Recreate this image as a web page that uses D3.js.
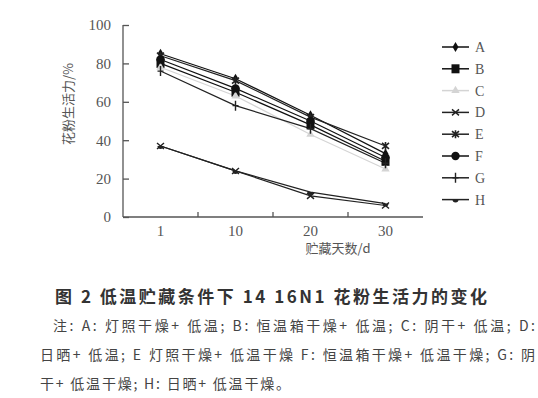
<!DOCTYPE html>
<html>
<head>
<meta charset="utf-8">
<script src="https://cdn.jsdelivr.net/npm/d3@7"></script>
<style>
  body { margin: 0; background: #fff; }
  svg { display: block; }
  .tick text { font-family: "Liberation Serif", "DejaVu Serif", serif; fill: #555; }
</style>
</head>
<body>
<div id="chart"></div>
<script>
// storage days (categories) and viability (%)
let days = [1, 10, 20, 30];
let seriesNames = ["A", "B", "C", "D", "E", "F", "G", "H"];
let valA = [85, 72, 53, 33];
let valB = [80, 65, 48, 29];
let valC = [78, 63, 43, 25];
let valD = [37, 24, 11, 6];
let valE = [84, 71, 52, 37];
let valF = [82, 67, 50, 31];
let valG = [76, 58, 46, 28];
let valH = [37, 24, 13, 7];
let yTicks = [0, 20, 40, 60, 80, 100];

let series = [
  { name: "A", values: valA, color: "#111", marker: "diamond" },
  { name: "B", values: valB, color: "#111", marker: "square" },
  { name: "C", values: valC, color: "#d4d4d4", marker: "triangle" },
  { name: "D", values: valD, color: "#222", marker: "x" },
  { name: "E", values: valE, color: "#222", marker: "star" },
  { name: "F", values: valF, color: "#111", marker: "circle" },
  { name: "G", values: valG, color: "#222", marker: "plus" },
  { name: "H", values: valH, color: "#222", marker: "dash" }
];

let dim = { width: 538, height: 398 };
let plot = { left: 123, right: 423, top: 25, bottom: 217 };

let svg = d3.select("#chart").append("svg")
    .attr("width", dim.width)
    .attr("height", dim.height);

let x = d3.scaleBand()
    .domain(days)
    .range([plot.left, plot.right]);

let y = d3.scaleLinear()
    .domain([0, 100])
    .range([plot.bottom, plot.top]);

// y axis, ticks pointing into the plot
let yAxis = d3.axisLeft(y).tickValues(yTicks).tickSize(-6).tickPadding(12);
let gy = svg.append("g")
    .attr("transform", "translate(" + plot.left + ",0)")
    .call(yAxis);
gy.select(".domain").attr("d", "M0," + plot.top + "V" + plot.bottom);
gy.selectAll("line, path").attr("stroke", "#555").attr("stroke-width", 1.3);
gy.selectAll("text").style("font-size", "15px");

// x axis, ticks between categories
let xAxis = d3.axisBottom(x).tickSize(0).tickPadding(8);
let gx = svg.append("g")
    .attr("transform", "translate(0," + plot.bottom + ")")
    .call(xAxis);
gx.select(".domain").attr("d", "M" + plot.left + ",0H" + plot.right);
gx.selectAll("line, path").attr("stroke", "#555").attr("stroke-width", 1.3);
gx.selectAll("text").style("font-size", "15px");
gx.selectAll(".sep").data(days.slice(1)).enter().append("line")
    .attr("class", "sep")
    .attr("x1", d => x(d)).attr("x2", d => x(d))
    .attr("y1", 0).attr("y2", -5)
    .attr("stroke", "#555").attr("stroke-width", 1.3);

let cx = d => x(d) + x.bandwidth() / 2;

function drawMarker(g, type, color) {
  if (type === "diamond") {
    g.append("path").attr("d", d3.symbol(d3.symbolDiamond, 30)()).attr("fill", color);
  } else if (type === "square") {
    g.append("rect").attr("x", -4).attr("y", -4.5).attr("width", 8).attr("height", 9).attr("fill", color);
  } else if (type === "triangle") {
    g.append("path").attr("d", d3.symbol(d3.symbolTriangle, 30)()).attr("fill", color);
  } else if (type === "x") {
    g.append("path").attr("d", "M-3.5,-3L3.5,3M-3.5,3L3.5,-3").attr("stroke", color).attr("stroke-width", 1.4);
  } else if (type === "star") {
    g.append("path").attr("d", "M-3.5,-3L3.5,3M-3.5,3L3.5,-3M0,-4V4").attr("stroke", color).attr("stroke-width", 1.6);
  } else if (type === "circle") {
    g.append("circle").attr("r", 4.2).attr("fill", color);
  } else if (type === "plus") {
    g.append("path").attr("d", "M0,-5V5M-3,0H3").attr("stroke", color).attr("stroke-width", 1.4);
  } else if (type === "dash") {
    g.append("path").attr("d", "M-3,0A3,3 0 0 0 3,0Z").attr("fill", color);
  }
}

let line = d3.line()
    .x((d, i) => cx(days[i]))
    .y(d => y(d));

let lines = svg.append("g").attr("class", "lines");
series.forEach(s => {
  lines.append("path")
      .datum(s.values)
      .attr("fill", "none")
      .attr("stroke", s.color)
      .attr("stroke-width", 1.2)
      .attr("d", line);
});
series.forEach(s => {
  s.values.forEach((v, i) => {
    let g = lines.append("g").attr("transform", "translate(" + cx(days[i]) + "," + y(v) + ")");
    drawMarker(g, s.marker, s.color);
  });
});

// legend
let legend = svg.append("g").attr("class", "legend");
series.forEach((s, i) => {
  let ly = 47 + i * 21.8;
  let g = legend.append("g").attr("transform", "translate(442," + ly + ")");
  g.append("line").attr("x1", 0).attr("x2", 27).attr("y1", 0).attr("y2", 0)
      .attr("stroke", s.color).attr("stroke-width", 1.5);
  drawMarker(g.append("g").attr("transform", "translate(13.5,0)"), s.marker, s.color);
  g.append("text").attr("x", 33).attr("y", 5)
      .style("font-family", "Liberation Serif, serif").style("font-size", "14px")
      .attr("fill", "#555").text(s.name);
});

// axis titles
svg.append("text")
    .attr("transform", "translate(73,104) rotate(-90)")
    .attr("text-anchor", "middle")
    .style("font-family", "Noto Sans CJK SC, sans-serif").style("font-size", "13px")
    .attr("fill", "#555").text("花粉生活力/%");

svg.append("text")
    .attr("x", 338).attr("y", 253)
    .attr("text-anchor", "middle")
    .style("font-family", "Noto Sans CJK SC, sans-serif").style("font-size", "13px")
    .attr("fill", "#555").text("贮藏天数/d");

// caption and notes
svg.append("text")
    .attr("x", 55).attr("y", 303)
    .attr("textLength", 432).attr("lengthAdjust", "spacing")
    .style("font-family", "Noto Sans CJK SC, sans-serif").style("font-size", "17px")
    .style("font-weight", "bold").attr("fill", "#333")
    .text("图 2   低温贮藏条件下 14 16N1 花粉生活力的变化");

let notes = [
  "注: A: 灯照干燥+ 低温; B: 恒温箱干燥+ 低温; C: 阴干+ 低温; D:",
  "日晒+ 低温; E 灯照干燥+ 低温干燥 F: 恒温箱干燥+ 低温干燥; G: 阴",
  "干+ 低温干燥; H: 日晒+ 低温干燥。"
];
let noteX = [53, 40, 40];
let noteLen = [482, 495, 250];
notes.forEach((t, i) => {
  svg.append("text")
      .attr("x", noteX[i]).attr("y", 331 + i * 29)
      .attr("textLength", noteLen[i]).attr("lengthAdjust", "spacing")
      .style("font-family", "Noto Sans CJK SC, serif").style("font-size", "14px")
      .attr("fill", "#444").text(t);
});
</script>
</body>
</html>
